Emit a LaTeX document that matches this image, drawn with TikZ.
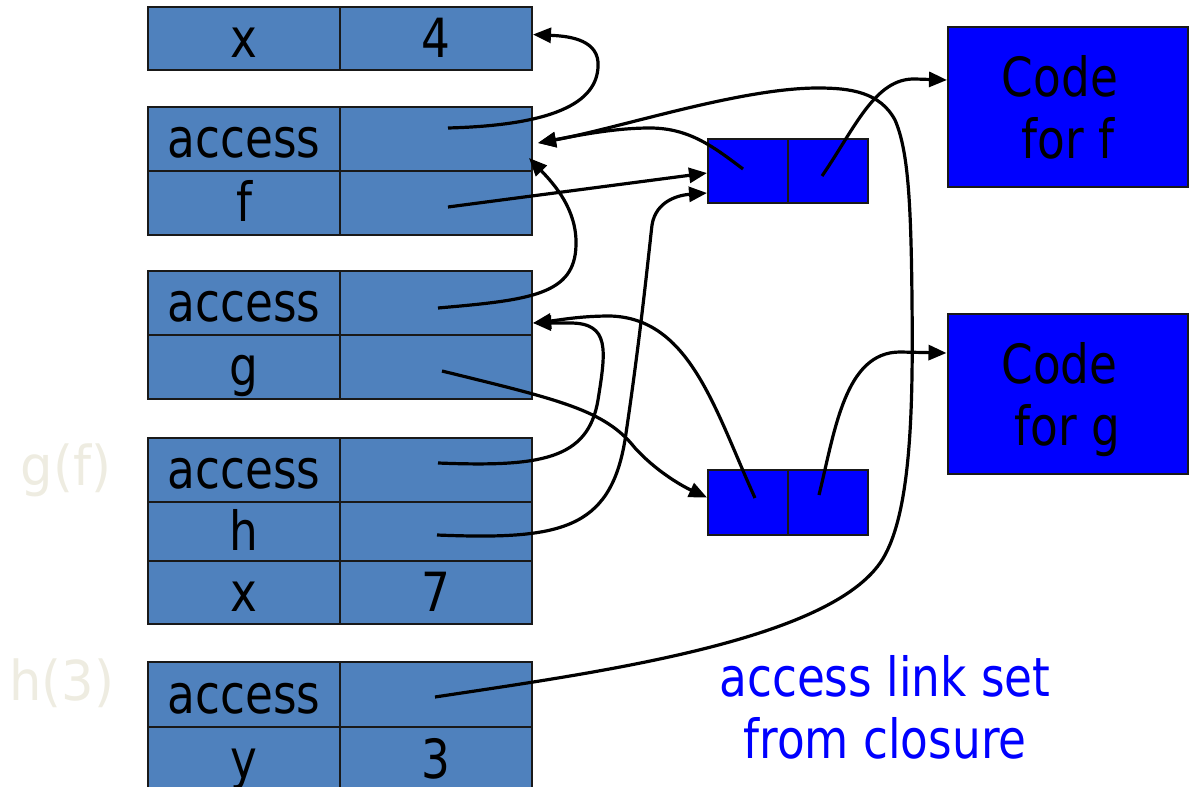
\documentclass[tikz,border=0pt]{standalone}
\usepackage{fontspec}
\setmainfont[FakeStretch=0.84]{DejaVu Sans}
\newfontfamily\lblfont[FakeStretch=0.93]{DejaVu Sans}
\usetikzlibrary{arrows.meta}
\definecolor{tbl}{HTML}{4F81BD}
\definecolor{pureblue}{HTML}{0000FF}
\definecolor{faint}{HTML}{EEECE1}
\begin{document}
\begin{tikzpicture}[x=1pt,y=-1pt,
  bigfont/.style={font=\fontsize{54}{62}\selectfont},
  cell/.style={bigfont, draw=black!90, line width=2pt, fill=tbl, minimum width=192pt, inner sep=0pt, text height=44pt, text depth=7pt},
  clos/.style={draw=black!90, line width=2pt, fill=pureblue, minimum width=80pt, inner sep=0pt},
  codebox/.style={bigfont, draw=black!90, line width=2pt, fill=pureblue, minimum width=240pt, minimum height=160pt, inner sep=0pt, align=center},
  conn/.style={line width=3.2pt, -{Triangle[length=18pt,width=15pt]}},
  lbl/.style={font=\lblfont\fontsize{55}{62}\selectfont, text=faint, inner sep=0pt, anchor=base}]
\useasboundingbox (0,0) rectangle (1192,787);

% frame with x = 4
\node[cell, minimum height=63pt] (x4L) at (244,38.5) {x};
\node[cell, minimum height=63pt] (x4R) at (436,38.5) {4};
% frame for f
\node[cell, minimum height=64pt] (faL) at (244,139) {access};
\node[cell, minimum height=64pt] (faR) at (436,139) {};
\node[cell, minimum height=64pt] (ffL) at (244,203) {f};
\node[cell, minimum height=64pt] (ffR) at (436,203) {};
% frame for g
\node[cell, minimum height=64pt] (gaL) at (244,303) {access};
\node[cell, minimum height=64pt] (gaR) at (436,303) {};
\node[cell, minimum height=64pt] (ggL) at (244,367) {g};
\node[cell, minimum height=64pt] (ggR) at (436,367) {};
% frame g(f)
\node[cell, minimum height=64pt] (hfaL) at (244,470) {access};
\node[cell, minimum height=64pt] (hfaR) at (436,470) {};
\node[cell, minimum height=59pt] (hhL) at (244,531.5) {h};
\node[cell, minimum height=59pt] (hhR) at (436,531.5) {};
\node[cell, minimum height=63pt] (hxL) at (244,592.5) {x};
\node[cell, minimum height=63pt] (hxR) at (436,592.5) {7};
% frame h(3)
\node[cell, minimum height=65pt] (h3aL) at (244,694.5) {access};
\node[cell, minimum height=65pt] (h3aR) at (436,694.5) {};
\node[cell, minimum height=65pt] (h3yL) at (244,759.5) {y};
\node[cell, minimum height=65pt] (h3yR) at (436,759.5) {3};

% labels
\node[lbl] (lgf) at (66,485) {g(f)};
\node[lbl] (lh3) at (62,700) {h(3)};

% closures
\node[clos, minimum height=64pt] (fc1) at (748,171) {};
\node[clos, minimum height=64pt] (fc2) at (828,171) {};
\node[clos, minimum height=65pt] (gc1) at (748,502.5) {};
\node[clos, minimum height=65pt] (gc2) at (828,502.5) {};

% code boxes
\node[codebox] (codef) at (1068,107) {Code\hspace*{16pt}\\for f};
\node[codebox, text depth=0pt] (codeg) at (1067.5,394) {Code\hspace*{16pt}\\for g};

% note
\node[bigfont, text=pureblue, align=center, inner sep=0pt] (note) at (885,707) {access link set\\from closure};

% connector start points
\coordinate (s1) at (448,128);
\coordinate (s2) at (448,207);
\coordinate (s3) at (438,308);
\coordinate (s4) at (442,371);
\coordinate (s5) at (438,463);
\coordinate (s6) at (755,498);
\coordinate (s7) at (437,535);
\coordinate (s8) at (743,169);
\coordinate (s9) at (435,697);
\coordinate (s10) at (822,176);
\coordinate (s11) at (819,495);

% connectors
\draw[conn] (s1) .. controls (560,125) and (600,100) .. (598,62) .. controls (596,38) and (565,36) .. ([yshift=4pt]x4R.east);
\draw[conn] (s2) -- ([yshift=-2pt]fc1.west);
\draw[conn] (s3) .. controls (530,300) and (575,295) .. (576,245) .. controls (577,210) and (555,185) .. ([shift={(-4pt,14pt)}]faR.south east);
\draw[conn] (s4) .. controls (560,400) and (605,410) .. (635,448) .. controls (655,470) and (680,485) .. ([yshift=5pt]gc1.west);
\draw[conn] (s5) .. controls (540,467) and (588,460) .. (598,400) .. controls (606,350) and (610,323) .. (570,323) -- ([yshift=-20pt]gaR.east);
\draw[conn] (s6) .. controls (715,410) and (690,318) .. (610,316) .. controls (580,316) and (560,320) .. ([yshift=-20pt]gaR.east);
\draw[conn] (s7) .. controls (560,540) and (610,530) .. (625,440) .. controls (640,340) and (648,260) .. (652,225) .. controls (656,200) and (680,195) .. ([yshift=-22pt]fc1.west);
\draw[conn] (s8) .. controls (715,148) and (690,128) .. (650,128) .. controls (615,128) and (580,135) .. ([shift={(5pt,-4pt)}]faR.east);
\draw[conn] (s9) .. controls (600,672) and (840,640) .. (885,555) .. controls (912,505) and (913,400) .. (912,300) .. controls (911,200) and (908,150) .. (895,120) .. controls (880,92) and (850,88) .. (818,88) .. controls (740,88) and (620,128) .. ([shift={(5pt,-4pt)}]faR.east);
\draw[conn] (s10) .. controls (855,128) and (875,78) .. (915,79) -- ([yshift=27pt]codef.west);
\draw[conn] (s11) .. controls (835,430) and (845,352) .. (900,352) -- ([yshift=41pt]codeg.west);
\end{tikzpicture}
\end{document}
